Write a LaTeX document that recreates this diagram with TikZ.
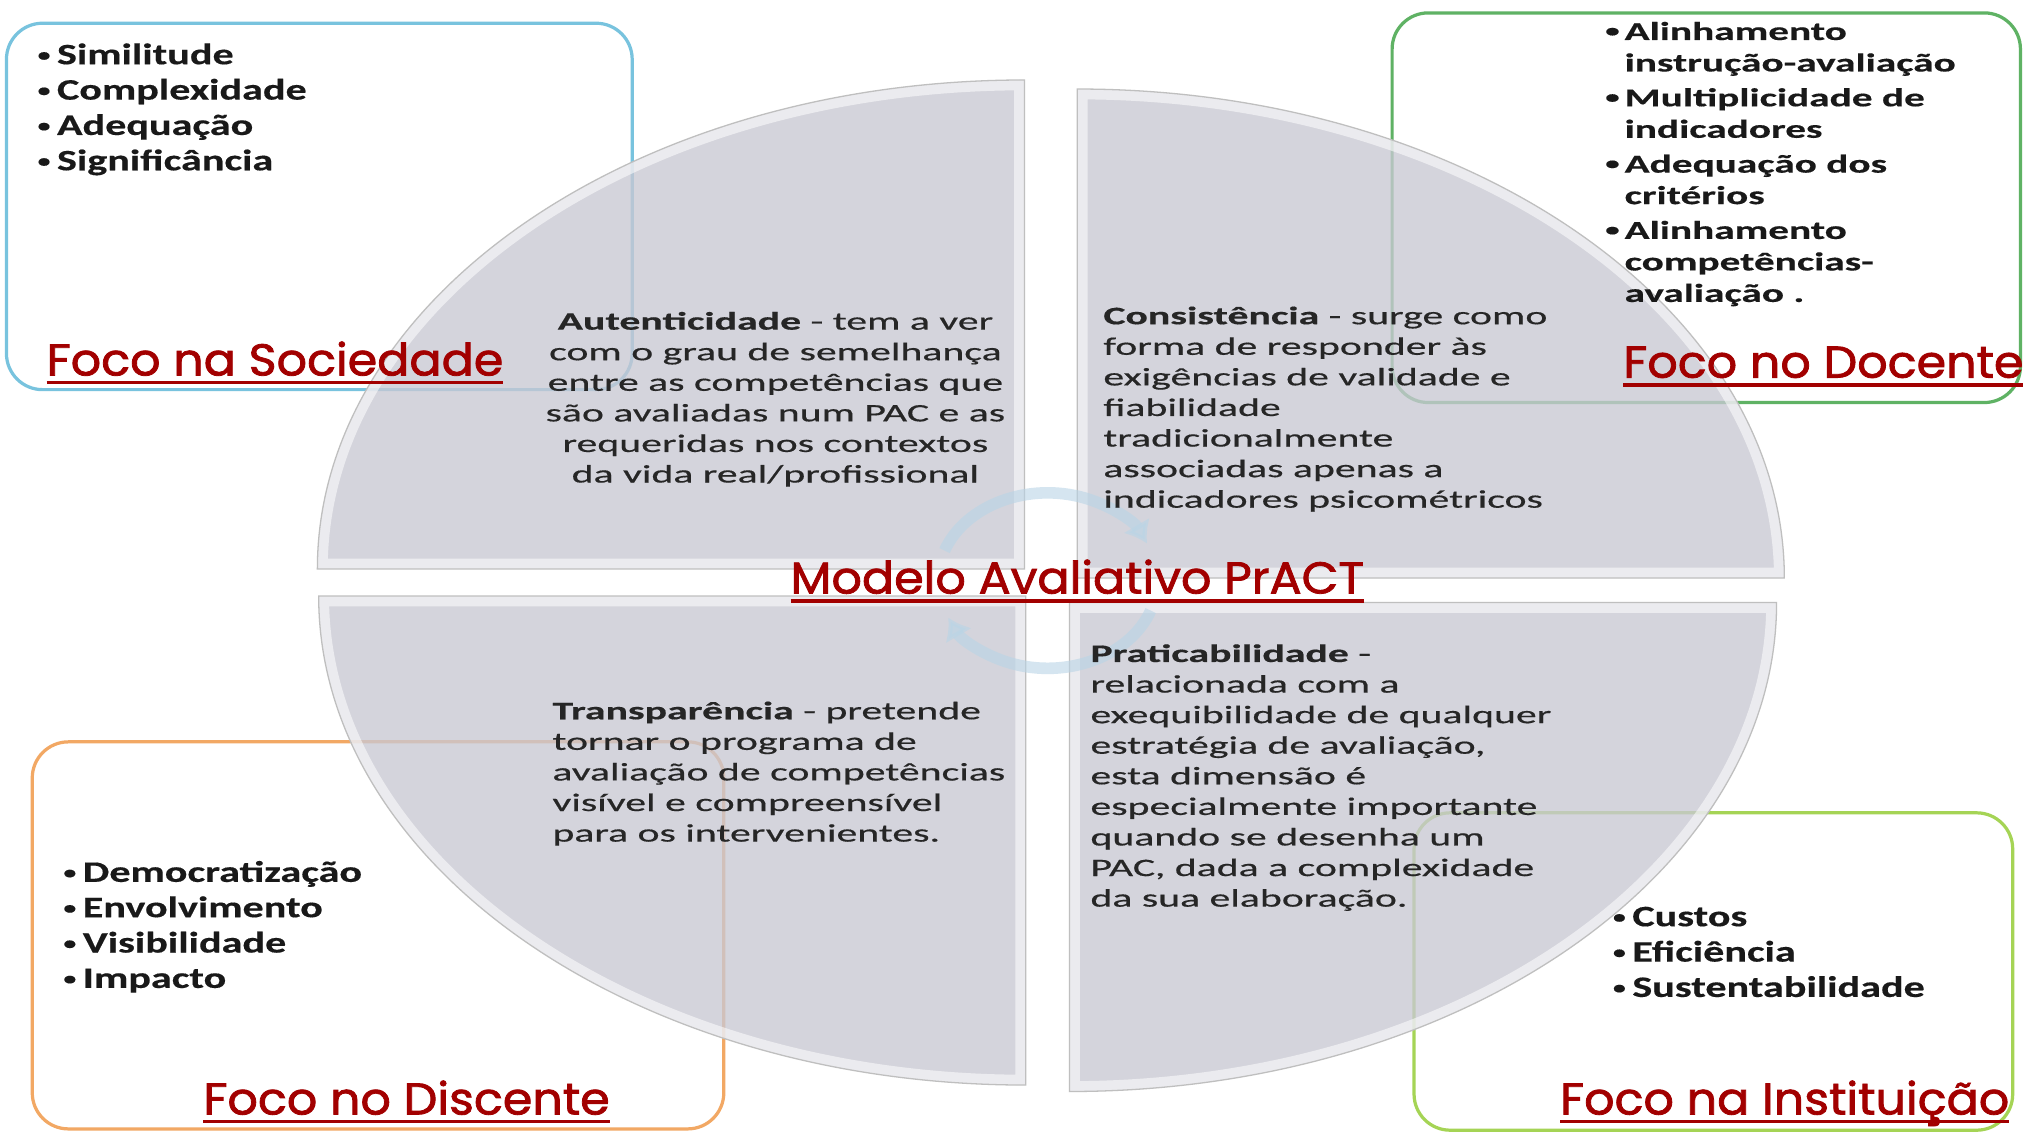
\documentclass[tikz,border=0pt]{standalone}
\usepackage{fontspec}
\setmainfont{Carlito}
\newfontfamily\listafont[FakeStretch=1.42, FakeBold=0.4]{Carlito}
\newfontfamily\docfont[FakeStretch=1.6, FakeBold=0.4]{Carlito}
\newfontfamily\textofont[FakeStretch=1.66, FakeBold=0.5]{Carlito}
\newfontfamily\focofont[FakeStretch=1.07, FakeBold=1.8]{Poppins}
\usetikzlibrary{
  arrows.meta,
}
\definecolor{azul}{RGB}{120,195,222}
\definecolor{verde}{RGB}{95,178,100}
\definecolor{laranja}{RGB}{242,168,100}
\definecolor{lima}{RGB}{165,212,85}
\definecolor{vermelho}{RGB}{162,0,0}
\definecolor{fatiaCor}{RGB}{200,200,211}
\definecolor{setaCor}{RGB}{185,212,230}
\newcommand{\marca}{\makebox[15pt][l]{\raisebox{2.5pt}{\fontsize{14}{14}\selectfont\textbullet}}}
\newcommand{\recuo}{\hspace*{15pt}}
\newcommand{\sublinhado}[1]{\setbox0=\hbox{#1}\rlap{\rule[-7pt]{\wd0}{3pt}}\box0}
\tikzstyle{caixa} = [
rounded corners=28pt,
line width=2.5pt,
fill=white
]
\tikzstyle{fatia} = [
fill=fatiaCor,
fill opacity=0.78
]
\tikzstyle{brilho} = [
draw=white,
line width=16pt,
opacity=0.55
]
\tikzstyle{contorno} = [
draw=black!25,
line width=1pt
]
\tikzstyle{seta} = [
draw=setaCor,
line width=9pt,
opacity=0.6,
-{Latex[length=16pt,width=24pt]}
]
\tikzstyle{foco} = [
font=\focofont\fontsize{34.5}{40}\selectfont,
text=vermelho,
inner sep=0pt,
anchor=base west
]
\tikzstyle{lista} = [
font=\listafont\bfseries\fontsize{23}{27.4}\selectfont,
align=left,
inner sep=0pt,
anchor=base west,
text=black!90
]
\tikzstyle{listadoc} = [
font=\docfont\bfseries\fontsize{20}{24.4}\selectfont,
align=left,
inner sep=0pt,
anchor=base west,
text=black!90
]
\tikzstyle{texto} = [
font=\textofont\fontsize{19.5}{23.7}\selectfont,
align=left,
inner sep=0pt,
anchor=base west,
text=black!85
]

\begin{document}
\begin{tikzpicture}[x=1pt, y=-1pt]
  \useasboundingbox (0,0) rectangle (1568,877);
  \fill [white] (0,0) rectangle (1568,877);

  % Corner boxes
  \draw [caixa, draw=azul] (5,18) rectangle (490,302);
  \draw [caixa, draw=verde] (1079,10) rectangle (1566,312);
  \draw [caixa, draw=laranja] (25,575) rectangle (561,875);
  \draw [caixa, draw=lima] (1096,630) rectangle (1560,876);

  % Pie quarters
  \foreach \cx/\cy/\a in {794/441/180, 835/448/270, 829/467/0, 795/462/90}{
    \begin{scope}
      \clip (\cx,\cy) -- ++(\a:548 and 379) arc[start angle=\a, delta angle=90, x radius=548, y radius=379] -- cycle;
      \fill [fatia] (0,0) rectangle (1568,877);
      \draw [brilho] (\cx,\cy) -- ++(\a:548 and 379) arc[start angle=\a, delta angle=90, x radius=548, y radius=379] -- cycle;
    \end{scope}
    \draw [contorno] (\cx,\cy) -- ++(\a:548 and 379) arc[start angle=\a, delta angle=90, x radius=548, y radius=379] -- cycle;
  }

  % Cycle arrows
  \coordinate (centro) at (812,450);
  \draw [seta] ([shift={(200:85 and 68)}]centro) arc[start angle=200, end angle=335, x radius=85, y radius=68];
  \draw [seta] ([shift={(20:85 and 68)}]centro) arc[start angle=20, end angle=155, x radius=85, y radius=68];

  % Dimension texts (anchored at the last baseline)
  \node [texto, align=center, anchor=base] (autent) at (601,374) {\textbf{Autenticidade} - tem a ver\\com o grau de semelhança\\entre as competências que\\são avaliadas num PAC e as\\requeridas nos contextos\\da vida real/profissional};
  \node [texto] (consist) at (855,393.5) {\textbf{Consistência} - surge como\\forma de responder às\\exigências de validade e\\fiabilidade\\tradicionalmente\\associadas apenas a\\indicadores psicométricos};
  \node [texto] (transp) at (428,652.3) {\textbf{Transparência} - pretende\\tornar o programa de\\avaliação de competências\\visível e compreensível\\para os intervenientes.};
  \node [texto] (pratic) at (845,702.7) {\textbf{Praticabilidade} -\\relacionada com a\\exequibilidade de qualquer\\estratégia de avaliação,\\esta dimensão é\\especialmente importante\\quando se desenha um\\PAC, dada a complexidade\\da sua elaboração.};

  % Bullet lists
  \node [lista] (socItens) at (29,132) {\marca Similitude\\\marca Complexidade\\\marca Adequação\\\marca Significância};
  \node [listadoc] (docItens) at (1244,234) {\marca Alinhamento\\\recuo instrução-avaliação\\[2.6pt]\marca Multiplicidade de\\\recuo indicadores\\[2.6pt]\marca Adequação dos\\\recuo critérios\\[2.6pt]\marca Alinhamento\\\recuo competências-\\\recuo avaliação .};
  \node [lista] (disItens) at (49,765.7) {\marca Democratização\\\marca Envolvimento\\\marca Visibilidade\\\marca Impacto};
  \node [lista] (instItens) at (1250,772.7) {\marca Custos\\\marca Eficiência\\\marca Sustentabilidade};

  % Focus labels
  \node [foco] (focoSoc) at (36,291) {\sublinhado{Foco na Sociedade}};
  \node [foco] (focoDoc) at (1258,292.7) {\sublinhado{Foco no Docente}};
  \node [foco] (focoDis) at (157.5,863.8) {\sublinhado{Foco no Discente}};
  \node [foco] (focoInst) at (1209,863.8) {\sublinhado{Foco na Instituição}};
  \node [foco] (modelo) at (612.5,460) {\sublinhado{Modelo Avaliativo PrACT}};
\end{tikzpicture}
\end{document}
